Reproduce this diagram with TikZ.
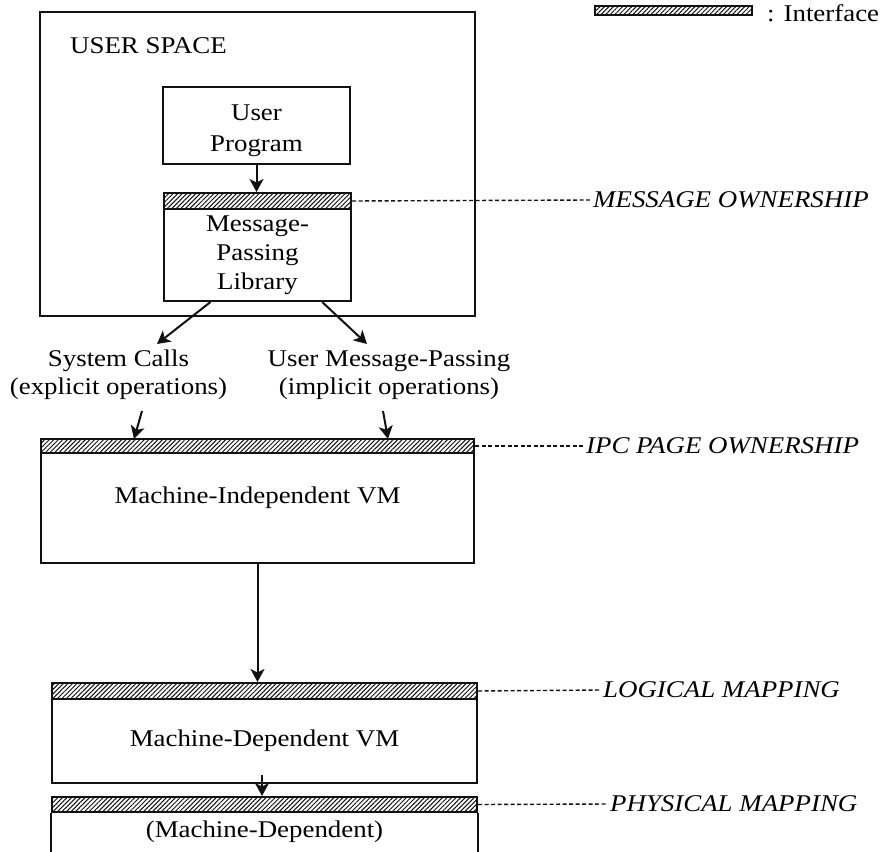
\documentclass[tikz,border=0pt]{standalone}
\usepackage{fontspec}
\setmainfont{Liberation Serif}[FakeStretch=1.12]
\usetikzlibrary{arrows.meta,patterns.meta}
\definecolor{ink}{HTML}{111111}

\begin{document}
\begin{tikzpicture}[x=1pt, y=-1pt,
		font=\fontsize{24}{29}\selectfont,
		box/.style={draw=ink, line width=2pt, rectangle, inner sep=0pt},
		bar/.style={draw=ink, line width=2pt, rectangle, inner sep=0pt, pattern={Lines[angle=45, distance=3.2pt, line width=1pt]}, pattern color=ink},
		arr/.style={draw=ink, line width=2pt, -{Stealth[length=13pt, width=14pt, inset=3.5pt]}},
		lead/.style={draw=ink, line width=1.4pt, dash pattern=on 4pt off 2.5pt},
		layer/.style={font=\fontsize{24}{29}\selectfont\itshape, anchor=west, inner sep=2pt}]
		\useasboundingbox (0,0) rectangle (883,851);
		% legend
		\node[bar, minimum width=157pt, minimum height=9pt] (legbar) at (673.5,11) {};
		\node[anchor=west, inner sep=0pt] (legtext) at (767,13) {: Interface};
		% user space
		\node[box, minimum width=435pt, minimum height=304pt] (user) at (257.5,164) {};
		\node[anchor=base west, inner sep=0pt] (userlbl) at (70,53) {USER SPACE};
		\node[box, minimum width=187pt, minimum height=77pt] (prog) at (256.5,125.5) {};
		\node[align=center, inner sep=0pt, font=\fontsize{24}{31}\selectfont] (proglbl) at (256.5,131) {User\\Program};
		\node[bar, minimum width=187pt, minimum height=16pt] (libbar) at (257.5,201) {};
		\node[box, minimum width=187pt, minimum height=92pt, align=center] (lib) at (257.5,255) {Message-\\Passing\\Library};
		\node[layer] (msgown) at (591,200) {MESSAGE OWNERSHIP};
		\draw[arr] (prog.south) -- (prog.south |- libbar.north);
		\draw[lead] (libbar.east) -- (msgown.west);
		% calls
		\node[align=center, font=\fontsize{24}{28}\selectfont] (syscall) at (118.5,375) {System Calls\\(explicit operations)};
		\node[align=center, font=\fontsize{24}{28}\selectfont] (usermp) at (389,375) {User Message-Passing\\(implicit operations)};
		\coordinate (sctop) at (157,344);
		\coordinate (umtop) at (367,344);
		\coordinate (scbot) at (142,411);
		\coordinate (umbot) at (383,411);
		\coordinate (scin) at (134,439);
		\coordinate (umin) at (388,439);
		\draw[arr] (lib.-135) -- (sctop);
		\draw[arr] (lib.-36) -- (umtop);
		\draw[arr] (scbot) -- (scin);
		\draw[arr] (umbot) -- (umin);
		% machine-independent
		\node[bar, minimum width=433pt, minimum height=14pt] (ipcbar) at (257.5,446) {};
		\node[box, minimum width=433pt, minimum height=110pt] (mivm) at (257.5,508) {};
		\node[inner sep=0pt] (mivmlbl) at (257.5,498) {Machine-Independent VM};
		\node[layer] (ipcown) at (584,446) {IPC PAGE OWNERSHIP};
		\draw[lead] (ipcbar.east) -- (ipcown.west);
		% machine-dependent
		\node[bar, minimum width=425pt, minimum height=16pt] (logbar) at (264.5,691) {};
		\node[box, minimum width=425pt, minimum height=84pt] (mdvm) at (264.5,741) {Machine-Dependent VM};
		\node[layer] (logmap) at (601,690) {LOGICAL MAPPING};
		\draw[arr] (mivm.south) -- (mivm.south |- logbar.north);
		\draw[lead] (logbar.east) -- (logmap.west);
		% physical
		\node[bar, minimum width=425pt, minimum height=15pt] (physbar) at (264.5,804.5) {};
		\node[layer] (physmap) at (608,804) {PHYSICAL MAPPING};
		\node (mdlbl) at (264.5,832) {(Machine-Dependent)};
		\coordinate (mdout) at (262,775);
		\draw[arr] (mdout) -- (mdout |- physbar.north);
		\draw[lead] (physbar.east) -- (physmap.west);
		\draw[draw=ink, line width=2pt] (physbar.south west) -- ++(0,47) (physbar.south east) -- ++(0,47);
	\end{tikzpicture}
\end{document}
